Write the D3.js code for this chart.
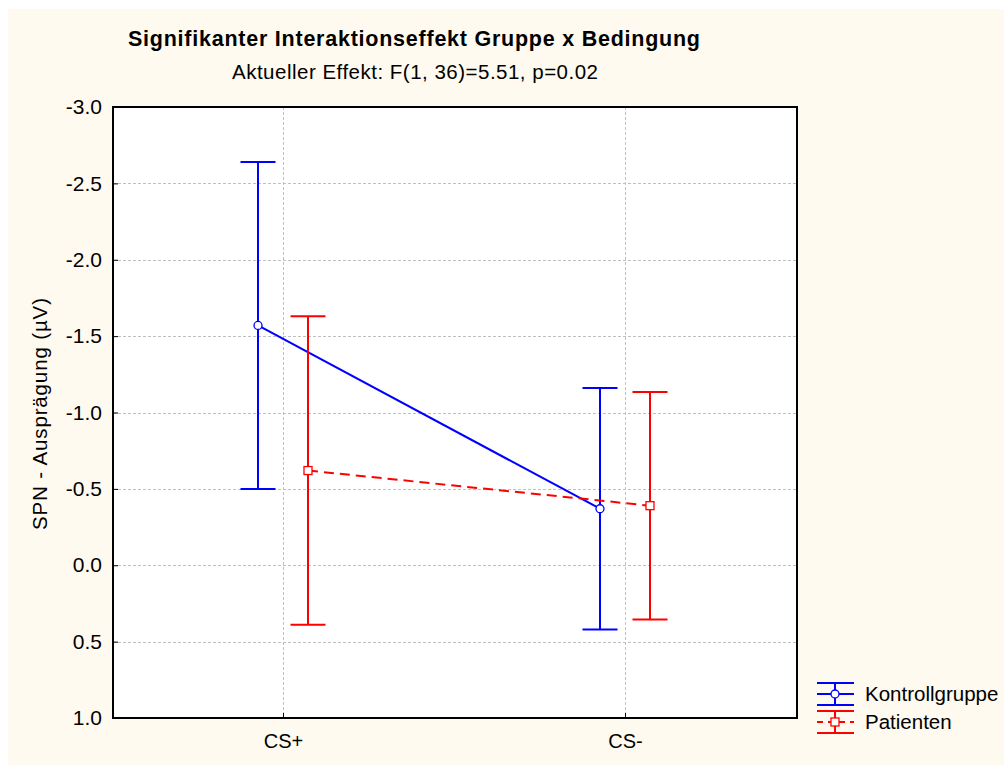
<!DOCTYPE html>
<html>
<head>
<meta charset="utf-8">
<script src="https://cdn.jsdelivr.net/npm/d3@7"></script>
<style>
  html, body { margin: 0; padding: 0; background: #ffffff; }
  svg { display: block; font-family: "Liberation Sans", Arial, sans-serif; }
</style>
</head>
<body>
<svg id="chart" width="1004" height="765"></svg>
<script>
// Conditions on the x axis
const conditions = ["CS+", "CS-"];
// Groups
const groups = ["Kontrollgruppe", "Patienten"];
// Group means (µV) per condition
const kontrollMeans = [-1.57, -0.37];
const patientenMeans = [-0.62, -0.39];
// Half-widths of the error bars
const kontrollErr = [1.07, 0.79];
const patientenErr = [1.01, 0.745];
// Y tick values and labels
const yTicks = [-3.0, -2.5, -2.0, -1.5, -1.0, -0.5, 0.0, 0.5, 1.0];

const seriesColors = ["#0000ff", "#ff0000"];
const FONT = "'Liberation Sans', Arial, sans-serif";

const svg = d3.select("#chart");
const W = 1004, H = 765;

// page background
svg.append("rect").attr("x", 8).attr("y", 9).attr("width", W - 8).attr("height", H - 9)
  .attr("fill", "#fffaef");

const plot = { left: 113, top: 107, right: 797, bottom: 718 };

const x = d3.scalePoint().domain(conditions).range([283, 625]);
const y = d3.scaleLinear().domain([-3, 1]).range([plot.top, plot.bottom]);

// plot area
svg.append("rect")
  .attr("x", plot.left).attr("y", plot.top)
  .attr("width", plot.right - plot.left).attr("height", plot.bottom - plot.top)
  .attr("fill", "#ffffff");

// grid lines
const grid = svg.append("g").attr("stroke", "#c0c0c0").attr("stroke-width", 1)
  .attr("stroke-dasharray", "3,2");
grid.selectAll("line.h").data(yTicks.slice(1, -1)).join("line").attr("class", "h")
  .attr("x1", plot.left).attr("x2", plot.right)
  .attr("y1", d => Math.round(y(d)) + 0.5).attr("y2", d => Math.round(y(d)) + 0.5);
grid.selectAll("line.v").data(conditions).join("line").attr("class", "v")
  .attr("x1", d => x(d) + 0.5).attr("x2", d => x(d) + 0.5)
  .attr("y1", plot.top).attr("y2", plot.bottom);

// axes
const fmt = d => d3.format(".1f")(d).replace("\u2212", "-");
const yAxis = d3.axisLeft(y).tickValues(yTicks).tickFormat(fmt).tickSize(0).tickPadding(11);
const gy = svg.append("g").attr("transform", `translate(${plot.left},0)`).call(yAxis);
gy.select(".domain").remove();
gy.selectAll(".tick").append("line").attr("x1", 0).attr("x2", 5).attr("stroke", "#000");
gy.selectAll("text").attr("font-size", 21).attr("fill", "#000").attr("font-family", FONT);

const xAxis = d3.axisBottom(x).tickSize(0).tickPadding(16);
const gx = svg.append("g").attr("transform", `translate(0,${plot.bottom})`).call(xAxis);
gx.select(".domain").remove();
gx.selectAll(".tick").append("line").attr("y1", 0).attr("y2", -5).attr("stroke", "#000");
gx.selectAll("text").attr("font-size", 20).attr("fill", "#000").attr("font-family", FONT);

// frame
svg.append("rect")
  .attr("x", plot.left).attr("y", plot.top)
  .attr("width", plot.right - plot.left).attr("height", plot.bottom - plot.top)
  .attr("fill", "none").attr("stroke", "#000").attr("stroke-width", 2);

// series
const series = [
  { name: groups[0], means: kontrollMeans, err: kontrollErr, color: seriesColors[0], dx: -25, dash: null, marker: "circle" },
  { name: groups[1], means: patientenMeans, err: patientenErr, color: seriesColors[1], dx: 25, dash: "10,6", marker: "square" }
];

const capHalf = 17.5;
series.forEach(s => {
  const g = svg.append("g");
  const pts = conditions.map((c, i) => ({ c, m: s.means[i], e: s.err[i] }));
  // error bars
  pts.forEach(p => {
    const px = x(p.c) + s.dx;
    const lo = y(p.m - p.e), hi = y(p.m + p.e);
    g.append("line").attr("x1", px).attr("x2", px).attr("y1", lo).attr("y2", hi)
      .attr("stroke", s.color).attr("stroke-width", 2);
    [lo, hi].forEach(yy => g.append("line")
      .attr("x1", px - capHalf).attr("x2", px + capHalf).attr("y1", yy).attr("y2", yy)
      .attr("stroke", s.color).attr("stroke-width", 2));
  });
  // connecting line
  const line = d3.line().x(p => x(p.c) + s.dx).y(p => y(p.m));
  g.append("path").attr("d", line(pts)).attr("fill", "none")
    .attr("stroke", s.color).attr("stroke-width", 2)
    .attr("stroke-dasharray", s.dash);
  // markers
  pts.forEach(p => {
    const px = x(p.c) + s.dx, py = y(p.m);
    if (s.marker === "circle") {
      g.append("circle").attr("cx", px).attr("cy", py).attr("r", 4)
        .attr("fill", "#fff").attr("stroke", s.color).attr("stroke-width", 1.3);
    } else {
      g.append("rect").attr("x", px - 4).attr("y", py - 4).attr("width", 8).attr("height", 8)
        .attr("fill", "#fff").attr("stroke", s.color).attr("stroke-width", 1.3);
    }
  });
});

// titles
svg.append("text").attr("x", 128).attr("y", 46)
  .attr("font-size", 21.5).attr("font-weight", "bold").attr("fill", "#000")
  .attr("textLength", 572).attr("lengthAdjust", "spacing")
  .text("Signifikanter Interaktionseffekt Gruppe x Bedingung");
svg.append("text").attr("x", 232).attr("y", 79)
  .attr("font-size", 20.5).attr("fill", "#000")
  .attr("textLength", 366).attr("lengthAdjust", "spacing")
  .text("Aktueller Effekt: F(1, 36)=5.51, p=0.02");

// y axis title
svg.append("text").attr("transform", `translate(47,530) rotate(-90)`)
  .attr("font-size", 20.5).attr("fill", "#000")
  .attr("textLength", 232).attr("lengthAdjust", "spacing")
  .text("SPN - Ausprägung (µV)");

// legend
const legend = svg.append("g");
series.forEach((s, i) => {
  const cy = 694 + i * 28;
  const x0 = 817, x1 = 854, xc = 835;
  const lg = legend.append("g");
  [cy - 11, cy + 11].forEach(yy => lg.append("line")
    .attr("x1", x0).attr("x2", x1).attr("y1", yy).attr("y2", yy)
    .attr("stroke", s.color).attr("stroke-width", 2));
  lg.append("line").attr("x1", xc).attr("x2", xc).attr("y1", cy - 11).attr("y2", cy + 11)
    .attr("stroke", s.color).attr("stroke-width", 2);
  lg.append("line").attr("x1", x0).attr("x2", x1).attr("y1", cy).attr("y2", cy)
    .attr("stroke", s.color).attr("stroke-width", 2)
    .attr("stroke-dasharray", s.dash ? "6,5" : null);
  if (s.marker === "circle") {
    lg.append("circle").attr("cx", xc).attr("cy", cy).attr("r", 4)
      .attr("fill", "#fff").attr("stroke", s.color).attr("stroke-width", 1.3);
  } else {
    lg.append("rect").attr("x", xc - 4).attr("y", cy - 4).attr("width", 8).attr("height", 8)
      .attr("fill", "#fff").attr("stroke", s.color).attr("stroke-width", 1.3);
  }
  lg.append("text").attr("x", 865).attr("y", cy + 7).attr("font-size", 20.5).attr("fill", "#000")
    .text(s.name);
});
</script>
</body>
</html>
